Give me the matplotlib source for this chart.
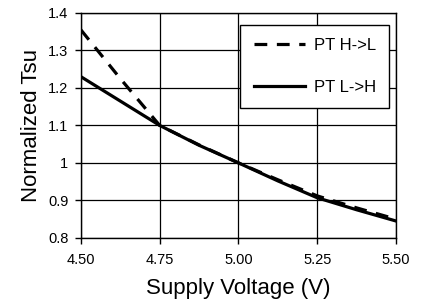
import matplotlib
matplotlib.use("Agg")
import matplotlib.pyplot as plt
from matplotlib.ticker import FixedLocator, FixedFormatter

# Supply voltage (V) and normalized Tsu for each transition
voltage = [4.50, 4.625, 4.75, 4.875, 5.00, 5.125, 5.25, 5.375, 5.50]
tsu_hl = [1.355, 1.225, 1.100, 1.048, 1.000, 0.955, 0.912, 0.880, 0.850]
tsu_lh = [1.230, 1.165, 1.100, 1.047, 1.000, 0.952, 0.907, 0.875, 0.845]

xticks = [4.50, 4.75, 5.00, 5.25, 5.50]
xtick_labels = ["4.50", "4.75", "5.00", "5.25", "5.50"]
yticks = [0.8, 0.9, 1.0, 1.1, 1.2, 1.3, 1.4]
ytick_labels = ["0.8", "0.9", "1", "1.1", "1.2", "1.3", "1.4"]

plt.rcParams["font.family"] = ["Liberation Sans", "DejaVu Sans"]

fig = plt.figure(figsize=(4.21, 3.07), dpi=100)
ax = fig.add_axes([0.192, 0.225, 0.749, 0.733])

ax.plot(voltage, tsu_hl, color="black", lw=2.3, linestyle=(0, (4, 3)),
        label="PT H->L")
ax.plot(voltage, tsu_lh, color="black", lw=2.3, label="PT L->H")

ax.set_xlim(4.5, 5.5)
ax.set_ylim(0.8, 1.4)
ax.xaxis.set_major_locator(FixedLocator(xticks))
ax.xaxis.set_major_formatter(FixedFormatter(xtick_labels))
ax.yaxis.set_major_locator(FixedLocator(yticks))
ax.yaxis.set_major_formatter(FixedFormatter(ytick_labels))
ax.tick_params(direction="out", length=4, width=1, labelsize=10.5)
ax.tick_params(axis="x", pad=7)
ax.tick_params(axis="y", pad=5)
ax.grid(True, color="black", lw=0.9)
for s in ax.spines.values():
    s.set_color("black")
    s.set_linewidth(1)

ax.set_xlabel("Supply Voltage (V)", fontsize=16, labelpad=8)
ax.set_ylabel("Normalized Tsu", fontsize=16, labelpad=4)

leg = ax.legend(loc="upper right", bbox_to_anchor=(0.978, 0.947), fontsize=12,
                frameon=True, fancybox=False, edgecolor="black",
                framealpha=1, handlelength=3.1, handletextpad=0.5,
                labelspacing=1.6, borderpad=0.8, borderaxespad=0)
leg.get_frame().set_linewidth(1)

fig.savefig("out.png", dpi=100)
